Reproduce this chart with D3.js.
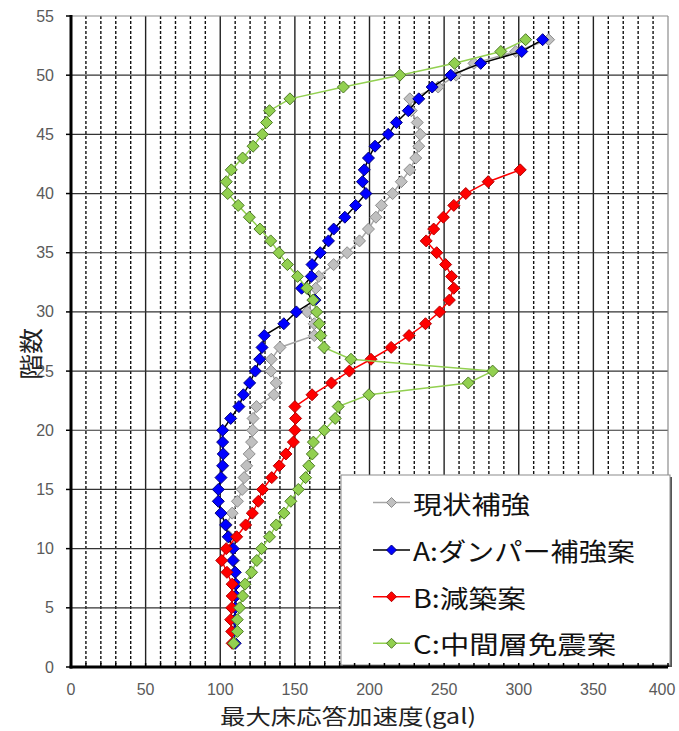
<!DOCTYPE html>
<html><head><meta charset="utf-8">
<script src="https://cdn.jsdelivr.net/npm/d3@7"></script>
<style>html,body{margin:0;padding:0;background:#fff;}svg{display:block;}</style>
</head><body>
<svg id="c" width="679" height="731"></svg>
<script>
// ---- data ----
const floorsFull = [2,3,4,5,6,7,8,9,10,11,12,13,14,15,16,17,18,19,20,21,22,23,24,25,26,27,28,29,30,31,32,33,34,35,36,37,38,39,40,41,42,43,44,45,46,47,48,49,50,51,52,53];
const floorsB = [2,3,4,5,6,7,8,9,10,11,12,13,14,15,16,17,18,19,20,21,22,23,24,25,26,27,28,29,30,31,32,33,34,35,36,37,38,39,40,41,42];
const genjo = [109,109,110,110,110,110,110,109,108,106,104,108,111.5,114.7,116,117.7,119.4,121,121.7,122,124.3,136,137.5,134,134.2,140,163,163,158.3,162,164,166,176,185,193.3,199.3,204.3,208,215.5,221.3,227,231,233,234,232,228,227,246,258,270,298,320];
const seriesA = [110,110,110,110,110.5,110.5,110,108.5,108.7,105.3,103.6,100.5,98.7,98.7,100.5,101.6,102,101.6,101.6,107,112.5,115.5,119.7,123.5,126.4,128,129.5,142.6,151,163.5,154.5,161,161.5,167,172.5,176,183.5,190.7,197.6,195.3,196.5,199.3,203.7,212.5,218,226,233,242,254.5,274.5,302,316];
const seriesB = [108,107.7,107,107.7,108,108,104.5,101,104,111,117,121.5,125.5,128.4,134.5,139.5,144,149,150,150.5,150,161.5,174.5,186.5,201,214.5,226.5,237.5,247,253.5,256.5,255,251,245,238,243,249.5,256.5,264.5,279.5,301];
const seriesC = [109,111.5,111.4,113,115,116.6,121,124.5,127.7,133,137.5,142.7,147.3,152.3,157.2,159.3,161.7,162.4,169.7,177,179,199.6,266.2,282.5,187.6,169.5,167.3,166.3,164.6,162.3,158,151.8,145,139.3,133.8,126.6,119.5,112,105,104,107.4,115,122,128.2,131,133,146.7,182.5,220.4,257,288,304.6];
const seriesNames = ["現状補強","A:ダンパー補強案","B:減築案","C:中間層免震案"];
const xTickLabels = [0,50,100,150,200,250,300,350,400];
const yTickLabels = [0,5,10,15,20,25,30,35,40,45,50,55];
const xMinor = [0,10,20,30,40,50,60,70,80,90,100,110,120,130,140,150,160,170,180,190,200,210,220,230,240,250,260,270,280,290,300,310,320,330,340,350,360,370,380,390,400];
const xTitle = "最大床応答加速度(gal)";
const yTitle = "階数";

// ---- layout ----
const svg = d3.select("#c");
const L = 71, R = 668, T = 16, B = 667;
const x = d3.scaleLinear().domain([0,400]).range([L,R]);
const y = d3.scaleLinear().domain([0,55]).range([B,T]);

const styles = [
  {line:"#a6a6a6", fill:"#c0c0c0", stroke:"#8c8c8c"},
  {line:"#000000", fill:"#0000ff", stroke:"#00007a"},
  {line:"#ff0000", fill:"#ff0000", stroke:"#b00000"},
  {line:"#92d050", fill:"#92d050", stroke:"#4e7a26"}
];
const seriesData = [
  floorsFull.map((f,i)=>[genjo[i],f]),
  floorsFull.map((f,i)=>[seriesA[i],f]),
  floorsB.map((f,i)=>[seriesB[i],f]),
  floorsFull.map((f,i)=>[seriesC[i],f])
];

// grid: dashed minor verticals
const g = svg.append("g");
g.selectAll("line.minor").data(xMinor.filter(v=>v%50!==0)).enter().append("line")
  .attr("x1",d=>x(d)).attr("x2",d=>x(d)).attr("y1",T).attr("y2",B)
  .attr("stroke","#111").attr("stroke-width",1.4).attr("stroke-dasharray","3,2");
// solid major verticals
g.selectAll("line.major").data(xTickLabels.filter(v=>v>0 && v<400)).enter().append("line")
  .attr("x1",d=>x(d)).attr("x2",d=>x(d)).attr("y1",T).attr("y2",B)
  .attr("stroke","#222").attr("stroke-width",1.4);
// horizontal gridlines
g.selectAll("line.h").data(yTickLabels.filter(v=>v>0 && v<55)).enter().append("line")
  .attr("x1",L).attr("x2",R).attr("y1",d=>y(d)).attr("y2",d=>y(d))
  .attr("stroke","#333").attr("stroke-width",1.2);
// top and right border
g.append("line").attr("x1",L).attr("x2",R).attr("y1",T).attr("y2",T).attr("stroke","#8c8c8c").attr("stroke-width",1.2);
g.append("line").attr("x1",R).attr("x2",R).attr("y1",T).attr("y2",B).attr("stroke","#8c8c8c").attr("stroke-width",1.2);

// series
const line = d3.line().x(d=>x(d[0])).y(d=>y(d[1]));
const diamond = "M0,-6L6,0L0,6L-6,0Z";
seriesData.forEach((data,i)=>{
  const s = styles[i];
  const sg = svg.append("g");
  sg.append("path").datum(data).attr("d",line).attr("fill","none")
    .attr("stroke",s.line).attr("stroke-width",1.5);
  sg.selectAll("path.m").data(data).enter().append("path")
    .attr("d",diamond).attr("transform",d=>`translate(${x(d[0])},${y(d[1])})`)
    .attr("fill",s.fill).attr("stroke",s.stroke).attr("stroke-width",1);
});

// legend
const lg = svg.append("g");
const lx = 341, ly = 475, lw = 329, lh = 190;
lg.append("rect").attr("x",lx+2).attr("y",ly+2).attr("width",lw).attr("height",lh).attr("fill","#555");
lg.append("rect").attr("x",lx).attr("y",ly).attr("width",lw).attr("height",lh).attr("fill","#fff").attr("stroke","#8c8c8c").attr("stroke-width",1);
const rowY = [502.5, 550, 596.7, 643.3];
const textLens = [117, 222, 113, 203];
seriesNames.forEach((name,i)=>{
  const s = styles[i];
  lg.append("line").attr("x1",373).attr("x2",410).attr("y1",rowY[i]).attr("y2",rowY[i])
    .attr("stroke", i===1 ? "#000" : s.line).attr("stroke-width",1.5);
  lg.append("path").attr("d","M0,-5L5,0L0,5L-5,0Z").attr("transform",`translate(391.5,${rowY[i]})`)
    .attr("fill",s.fill).attr("stroke",s.stroke).attr("stroke-width",1);
  lg.append("text").attr("x",413).attr("y",rowY[i]).attr("dominant-baseline","central")
    .attr("font-family","'Noto Sans CJK JP','Noto Sans',sans-serif").attr("font-size",25)
    .attr("fill","#111").attr("textLength",textLens[i]).attr("lengthAdjust","spacingAndGlyphs")
    .text(name);
});

// axes
const ax = svg.append("g");
// left axis
ax.append("line").attr("x1",L).attr("x2",L).attr("y1",T-1).attr("y2",B+1.5).attr("stroke","#000").attr("stroke-width",3);
ax.selectAll("line.yt").data(yTickLabels).enter().append("line")
  .attr("x1",L-5).attr("x2",L).attr("y1",d=>y(d)).attr("y2",d=>y(d)).attr("stroke","#000").attr("stroke-width",1.5);
// bottom axis
ax.append("line").attr("x1",L-1.5).attr("x2",R).attr("y1",B).attr("y2",B).attr("stroke","#000").attr("stroke-width",3);
ax.selectAll("line.xt").data(xMinor).enter().append("line")
  .attr("x1",d=>x(d)).attr("x2",d=>x(d)).attr("y1",B-4).attr("y2",B).attr("stroke","#000").attr("stroke-width",1.5);

// tick labels
ax.selectAll("text.yl").data(yTickLabels).enter().append("text")
  .attr("x",54).attr("y",d=>y(d)).attr("dominant-baseline","central").attr("text-anchor","end")
  .attr("font-family","'Liberation Sans',Arial,sans-serif").attr("font-size",16).attr("fill","#5a5a5a")
  .text(d=>d);
ax.selectAll("text.xl").data(xTickLabels).enter().append("text")
  .attr("x",d=>Math.min(x(d), 662)).attr("y",689).attr("dominant-baseline","central").attr("text-anchor","middle")
  .attr("font-family","'Liberation Sans',Arial,sans-serif").attr("font-size",16).attr("fill","#5a5a5a")
  .text(d=>d);

// titles
svg.append("text").attr("x",348).attr("y",715).attr("dominant-baseline","central").attr("text-anchor","middle")
  .attr("font-family","'Noto Sans CJK JP','Noto Sans',sans-serif").attr("font-size",21).attr("fill","#222")
  .attr("textLength",256).attr("lengthAdjust","spacingAndGlyphs").text(xTitle);
svg.append("text").attr("transform","translate(29,354) rotate(-90)").attr("dominant-baseline","central").attr("text-anchor","middle")
  .attr("font-family","'Noto Sans CJK JP','Noto Sans',sans-serif").attr("font-size",24).attr("fill","#222")
  .attr("textLength",52).attr("lengthAdjust","spacingAndGlyphs").text(yTitle);
</script>
</body></html>
